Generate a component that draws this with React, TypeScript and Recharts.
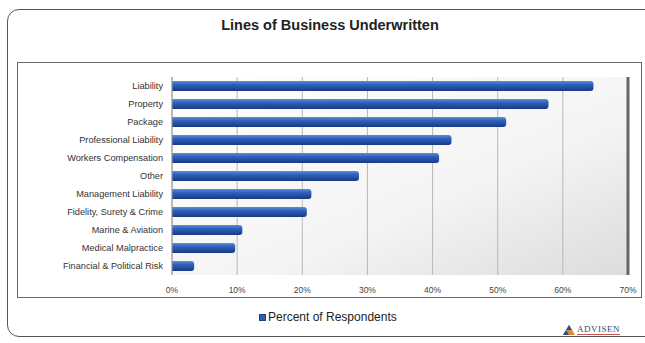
import React from 'react'
import { BarChart, Bar, XAxis, YAxis, CartesianGrid, ReferenceLine } from 'recharts'

const categories = [
  'Liability',
  'Property',
  'Package',
  'Professional Liability',
  'Workers Compensation',
  'Other',
  'Management Liability',
  'Fidelity, Surety & Crime',
  'Marine & Aviation',
  'Medical Malpractice',
  'Financial & Political Risk',
]
const percentValues = [64.7, 57.8, 51.3, 42.9, 41.0, 28.7, 21.4, 20.7, 10.8, 9.7, 3.4]
const xTicks = [0, 10, 20, 30, 40, 50, 60, 70]

const data = categories.map((name, i) => ({ name, value: percentValues[i] }))

const font = '"Liberation Sans", Arial, sans-serif'

function CategoryTick(props: any) {
  const { x, y, payload } = props
  return (
    <text x={x - 1} y={y} dy={3} textAnchor="end" fontSize={9.2} fill="#333" fontFamily={font}>
      {payload.value}
    </text>
  )
}

export default function App() {
  return (
    <div style={{ position: 'absolute', left: 0, top: 0, width: 645, height: 343, background: '#fff', overflow: 'hidden', fontFamily: font }}>
      <div style={{ position: 'absolute', left: 7, top: 9, width: 660, height: 328, border: '1.5px solid #555', borderRadius: 12, boxSizing: 'border-box' }} />
      <div style={{ position: 'absolute', left: 0, top: 17, width: 660, textAlign: 'center', fontWeight: 'bold', fontSize: 14.5, color: '#222' }}>
        Lines of Business Underwritten
      </div>
      <div style={{ position: 'absolute', left: 17, top: 62, width: 625, height: 236, border: '1px solid #666', boxSizing: 'border-box' }} />
      <div style={{ position: 'absolute', left: 17, top: 62 }}>
        <BarChart
          width={624}
          height={236}
          data={data}
          layout="vertical"
          margin={{ top: 15, right: 13, bottom: 3, left: 5 }}
          barCategoryGap={4}
        >
          <defs>
            <linearGradient id="plotBg" x1="0" y1="0" x2="1" y2="1">
              <stop offset="0%" stopColor="#ffffff" />
              <stop offset="60%" stopColor="#f4f4f4" />
              <stop offset="100%" stopColor="#dcdcdc" />
            </linearGradient>
            <linearGradient id="barFill" x1="0" y1="0" x2="0" y2="1">
              <stop offset="0%" stopColor="#5d8fd8" />
              <stop offset="35%" stopColor="#2f62bd" />
              <stop offset="100%" stopColor="#173a85" />
            </linearGradient>
          </defs>
          <CartesianGrid horizontal={false} stroke="#b8b8b8" fill="url(#plotBg)" />
          <XAxis
            type="number"
            domain={[0, 70]}
            ticks={xTicks}
            tickFormatter={(v: number) => `${v}%`}
            axisLine={false}
            tickLine={false}
            tick={{ fontSize: 8.5, fill: '#444', fontFamily: font }}
            height={20}
            tickMargin={6}
          />
          <YAxis
            type="category"
            dataKey="name"
            width={150}
            axisLine={{ stroke: '#999' }}
            tickLine={false}
            tick={<CategoryTick />}
            interval={0}
          />
          <ReferenceLine x={70} stroke="#666" strokeWidth={3} />
          <Bar dataKey="value" fill="url(#barFill)" barSize={10} radius={[0, 3, 3, 0]} isAnimationActive={false} />
        </BarChart>
      </div>
      <div style={{ position: 'absolute', left: 259, top: 310, fontSize: 12, color: '#222', display: 'flex', alignItems: 'center' }}>
        <span style={{ display: 'inline-block', width: 5, height: 5, background: '#2f5fb3', border: '1px solid #1c3d80', marginRight: 2 }} />
        Percent of Respondents
      </div>
      <div style={{ position: 'absolute', left: 563, top: 324, display: 'flex', alignItems: 'flex-end' }}>
        <svg width={12} height={10}>
          <polygon points="6,0 12,10 0,10" fill="#e08a2a" />
          <polygon points="6,0 9,5 3,5" fill="#2a4f9a" />
          <polygon points="3,5 6,10 0,10" fill="#2a4f9a" />
        </svg>
        <span style={{ fontFamily: '"Liberation Serif", serif', fontSize: 9, letterSpacing: 0.5, color: '#3a4a6a', marginLeft: 2, borderBottom: '1px solid #c55', lineHeight: '10px' }}>
          ADVISEN
        </span>
      </div>
    </div>
  )
}
